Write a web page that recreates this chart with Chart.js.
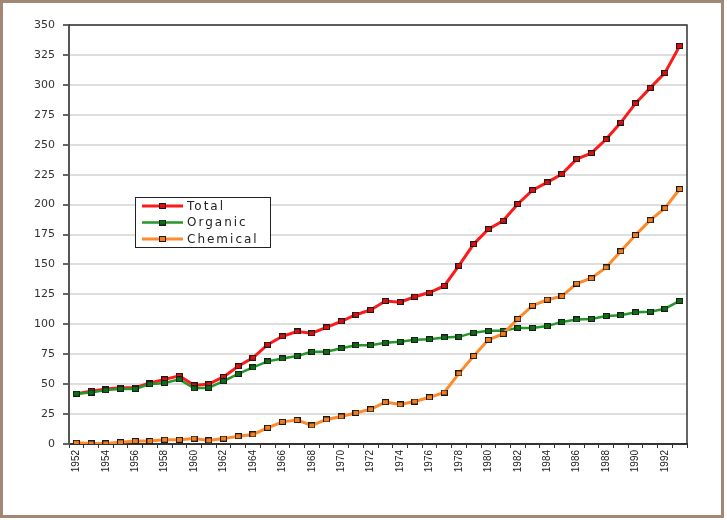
<!DOCTYPE html>
<html>
<head>
<meta charset="utf-8">
<script src="https://cdn.jsdelivr.net/npm/chart.js@4/dist/chart.umd.min.js"></script>
<style>
  html, body { margin: 0; padding: 0; background: #fff; }
  #wrap { position: relative; width: 727px; height: 520px; }
  #frame { position: absolute; left: 0; top: 0; width: 718px; height: 512px; border: 3px solid #a38775; pointer-events: none; }
</style>
</head>
<body>
<div id="wrap">
  <canvas id="myChart" width="727" height="520"></canvas>
  <div id="frame"></div>
</div>
<script>
// Données
const years = ['1952','1953','1954','1955','1956','1957','1958','1959','1960','1961',
  '1962','1963','1964','1965','1966','1967','1968','1969','1970','1971',
  '1972','1973','1974','1975','1976','1977','1978','1979','1980','1981',
  '1982','1983','1984','1985','1986','1987','1988','1989','1990','1991',
  '1992','1993'];
const seriesNames = ['Total', 'Organic', 'Chemical'];
const totalValues = [42, 44, 46, 47, 47, 51, 54, 57, 49, 50,
  56, 65, 72, 83, 90, 94, 92.5, 97.5, 102.5, 108,
  112, 119.5, 118.5, 123, 126.5, 132, 149, 167, 179.5, 186.5,
  200.5, 212, 218.5, 225.5, 238, 243, 254.5, 268.5, 284.5, 297.5,
  310, 332.5];
const organicValues = [42, 43, 45, 46, 46, 50, 51, 54, 46.5, 47,
  52.5, 58.5, 64, 69, 71.5, 73.5, 77, 77, 80, 82.5,
  82.5, 84.5, 85.5, 87, 87.5, 89, 89.5, 93, 94.5, 94.5,
  97, 97, 98.5, 102, 104, 104.5, 107, 107.5, 110, 110.5,
  113, 119.5];
const chemicalValues = [1, 0.5, 0.5, 1.5, 2.5, 2.5, 3.5, 3.5, 4.5, 3,
  4.5, 6.5, 8, 13.5, 18.5, 20, 15.5, 20.5, 23, 26,
  29, 35, 33, 35.5, 39, 43, 59, 73.5, 87, 92,
  104.5, 115.5, 120.5, 123.5, 134, 138.5, 147.5, 161, 174.5, 187,
  197, 213];
const yMax = 350;
const yStep = 25;

// petits carrés pour les marqueurs
function makeMarker(fill) {
  const c = document.createElement('canvas');
  c.width = 7;
  c.height = 6;
  const ctx = c.getContext('2d');
  ctx.fillStyle = '#1a1a1a';
  ctx.fillRect(0, 0, 7, 6);
  ctx.fillStyle = fill;
  ctx.fillRect(1, 1, 5, 4);
  return c;
}

const lineColors = ['#ff1a1a', '#25962a', '#ff8a2a'];
const markers = [makeMarker('#d81010'), makeMarker('#0c6e12'), makeMarker('#f07d1e')];
const lineWidths = [3, 2.5, 3];

// cadre de la zone de tracé
const plotFrame = {
  id: 'plotFrame',
  beforeDatasetsDraw(chart) {
    const a = chart.chartArea;
    const ctx = chart.ctx;
    ctx.save();
    ctx.strokeStyle = '#333';
    ctx.lineWidth = 1.5;
    ctx.beginPath();
    ctx.moveTo(a.left, a.top);
    ctx.lineTo(a.right, a.top);
    ctx.lineTo(a.right, a.bottom);
    ctx.stroke();
    ctx.restore();
  }
};

// légende dessinée dans la zone de tracé
const boxLegend = {
  id: 'boxLegend',
  afterDraw(chart) {
    const a = chart.chartArea;
    const ctx = chart.ctx;
    const x = a.left + 66;
    const y = a.top + 172;
    ctx.save();
    ctx.fillStyle = '#fff';
    ctx.fillRect(x, y, 135, 50);
    ctx.strokeStyle = '#222';
    ctx.lineWidth = 1;
    ctx.strokeRect(x + 0.5, y + 0.5, 135, 50);
    ctx.font = '12px "DejaVu Sans"';
    ctx.letterSpacing = '2px';
    ctx.textBaseline = 'middle';
    seriesNames.forEach((name, i) => {
      const ry = y + 9 + i * 16.5;
      ctx.strokeStyle = lineColors[i];
      ctx.lineWidth = lineWidths[i];
      ctx.beginPath();
      ctx.moveTo(x + 7, ry);
      ctx.lineTo(x + 48, ry);
      ctx.stroke();
      ctx.drawImage(markers[i], x + 24, ry - 3);
      ctx.fillStyle = '#222';
      ctx.fillText(name, x + 52, ry + 0.5);
    });
    ctx.restore();
  }
};

const seriesData = [totalValues, organicValues, chemicalValues];

const myChart = new Chart(document.getElementById('myChart'), {
  type: 'line',
  data: {
    labels: years,
    datasets: seriesNames.map((name, i) => ({
      label: name,
      data: seriesData[i],
      borderColor: lineColors[i],
      backgroundColor: lineColors[i],
      borderWidth: lineWidths[i],
      pointStyle: markers[i],
      pointRadius: 4,
      tension: 0,
      order: 2 - i
    }))
  },
  options: {
    responsive: false,
    animation: false,
    layout: { padding: { left: 0, top: 25, right: 40, bottom: 0 } },
    plugins: {
      legend: { display: false },
      tooltip: { enabled: false }
    },
    scales: {
      x: {
        type: 'category',
        offset: true,
        afterFit(scale) { scale.height = 76; },
        grid: {
          offset: true,
          drawOnChartArea: false,
          drawTicks: true,
          tickLength: 4,
          tickColor: '#333'
        },
        border: { color: '#333', width: 2 },
        ticks: {
          autoSkip: false,
          minRotation: 90,
          maxRotation: 90,
          padding: 2,
          color: '#222',
          font: { family: 'Liberation Sans', size: 10 },
          callback(value, index) {
            return index % 2 === 0 ? this.getLabelForValue(value) : '';
          }
        }
      },
      y: {
        min: 0,
        max: yMax,
        afterFit(scale) { scale.width = 69; },
        grid: {
          color: '#dedede',
          lineWidth: 2,
          tickLength: 6,
          tickColor: '#666'
        },
        border: { color: '#555', width: 2 },
        ticks: {
          stepSize: yStep,
          padding: 8,
          color: '#333',
          font: { family: 'DejaVu Sans', size: 11 }
        }
      }
    }
  },
  plugins: [plotFrame, boxLegend]
});
</script>
</body>
</html>
